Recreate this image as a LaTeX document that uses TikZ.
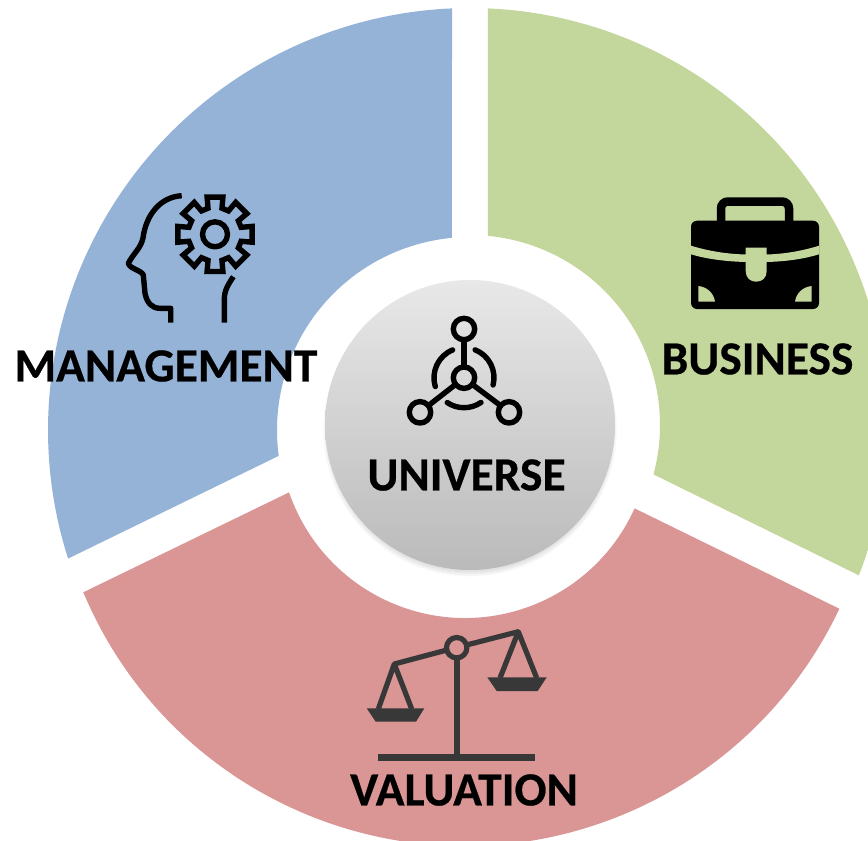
\documentclass[tikz,border=0pt]{standalone}
\usepackage{fontspec}
\setmainfont[BoldFeatures={FakeBold=0.5}]{Carlito}
\definecolor{mgmtblue}{HTML}{95B3D7}
\definecolor{bizgreen}{HTML}{C3D69B}
\definecolor{valred}{HTML}{D99694}
\definecolor{scaledark}{HTML}{383838}

\begin{document}
\begin{tikzpicture}[
    x=1pt, y=1pt, yscale=-1,
    label/.style={font=\fontsize{47.5}{47.5}\selectfont\bfseries, inner sep=0pt, text=black},
    iconline/.style={draw=black, line width=5.4pt, line cap=round, line join=round},
    scaleline/.style={draw=scaledark, line width=5.2pt, line join=round},
    scalepan/.style={fill=scaledark}
]
\useasboundingbox (0,0) rectangle (868,841);
\clip (0,0) rectangle (868,841);

% Sectors
\fill[mgmtblue, shift={(470,430)}] (267.56:422) arc[start angle=267.56, end angle=162.26, radius=422]
    -- (172.3:193) arc[start angle=172.3, end angle=264.6, radius=193] -- cycle;
\fill[bizgreen, shift={(470,425)}] (-87.53:417) arc[start angle=-87.53, end angle=21.14, radius=417]
    -- (15.07:190) arc[start angle=15.07, end angle=-84.64, radius=190] -- cycle;
\fill[valred, shift={(465,432)}] (157.22:414) arc[start angle=157.22, end angle=25.27, radius=414]
    -- (24.24:186) arc[start angle=24.24, end angle=161.07, radius=186] -- cycle;

% Centre disc
\foreach \i in {1,...,6}
    \fill[black, opacity=0.02] (470,429.5) circle ({141+\i});
\shade[top color=black!9, bottom color=black!27] (470,425) circle (145);

% Universe icon
\draw[iconline] (464,377.7) circle (10.7);
\draw[iconline] (464,329) circle (10.7);
\draw[iconline] (420,412.3) circle (10.7);
\draw[iconline] (509,412.3) circle (10.7);
\draw[iconline, line cap=butt] (464,339.7) -- (464,367);
\draw[iconline, line cap=butt] (455.5,384.5) -- (428.5,405.5);
\draw[iconline, line cap=butt] (472.5,384.5) -- (500.5,405.5);
\draw[iconline, shift={(464,377.7)}] (247.7:30) arc[start angle=247.7, end angle=162.8, radius=30];
\draw[iconline, shift={(464,377.7)}] (-68.3:30) arc[start angle=-68.3, end angle=14, radius=30];
\draw[iconline, shift={(464,377.7)}] (124:30) arc[start angle=124, end angle=55.5, radius=30];

% Management icon: head
\draw[iconline, line cap=butt] (181.7,195.7) .. controls (160,197) and (146,215) .. (143,238)
    .. controls (141,248) and (133,254) .. (128.3,263.3)
    .. controls (130,269) and (141,270) .. (143.3,275)
    -- (145,293.3) .. controls (147,303) and (152,308.3) .. (160,308.3)
    -- (170.7,308.3) -- (170.7,322.7);
\draw[iconline, line cap=butt] (233.3,276.7) .. controls (228,285) and (224.3,290) .. (224.3,300) -- (224.3,322.7);
% Management icon: gear
\draw[iconline, line join=miter, shift={(215,234.3)}] (-102:38)
    \foreach \a in {-90,-45,...,225} {-- (\a-12:38) -- (\a+12:38) -- (\a+15:27) -- (\a+30:27)} -- cycle;
\draw[iconline] (215,234.3) circle (12.5);

% Briefcase icon
\draw[line width=8.5pt, rounded corners=7pt] (721,224) -- (721,201.5) -- (789,201.5) -- (789,224);
\fill[black, rounded corners=6pt] (691,220.7) rectangle (819,309);
\fill[bizgreen] (691,245.7) .. controls (710,251.5) and (728,254) .. (745.7,254.5)
    -- (745.7,247.7) -- (766.7,247.7) -- (766.7,254.5)
    .. controls (784,254) and (802,251) .. (819,245.7)
    -- (819,254.3) .. controls (802,259.5) and (784,261.5) .. (766.7,262)
    -- (766.7,271) .. controls (766.7,278) and (762,281.7) .. (756.2,281.7)
    .. controls (750.4,281.7) and (745.7,278) .. (745.7,271)
    -- (745.7,262) .. controls (728,261.5) and (708,259.5) .. (691,254.3) -- cycle;
\fill[bizgreen] (698.3,286) .. controls (708,287) and (714,294) .. (715,301.7) -- (698.3,301.7) -- cycle;
\fill[bizgreen] (811.7,286) .. controls (802,287) and (796,294) .. (795,301.7) -- (811.7,301.7) -- cycle;

% Scale icon
\draw[scaleline] (394.3,664) -- (447,650);
\draw[scaleline] (466.5,645) -- (518.3,631.7);
\draw[scaleline] (378.3,709) -- (394.3,664) -- (411.7,709);
\draw[scaleline] (500,678) -- (518.3,631.7) -- (536.7,678);
\draw[scaleline, line width=6pt] (456.7,658) -- (456.7,755);
\draw[scaleline] (456.7,647.7) circle (10.2);
\fill[scalepan] (378.3,754) rectangle (535,760.7);
\fill[scalepan] (366.7,708.3) -- (424.3,708.3) -- (416,721.7) -- (375.7,721.7) -- cycle;
\fill[scalepan] (487.3,677.3) -- (546.7,677.3) -- (537.7,691) -- (496.7,691) -- cycle;

% Labels
\node[label] (management) at (166,366) {MANAGEMENT};
\node[label] (business) at (757.5,359) {BUSINESS};
\node[label] (universe) at (466.5,475) {UNIVERSE};
\node[label] (valuation) at (464,790) {VALUATION};

\end{tikzpicture}
\end{document}
